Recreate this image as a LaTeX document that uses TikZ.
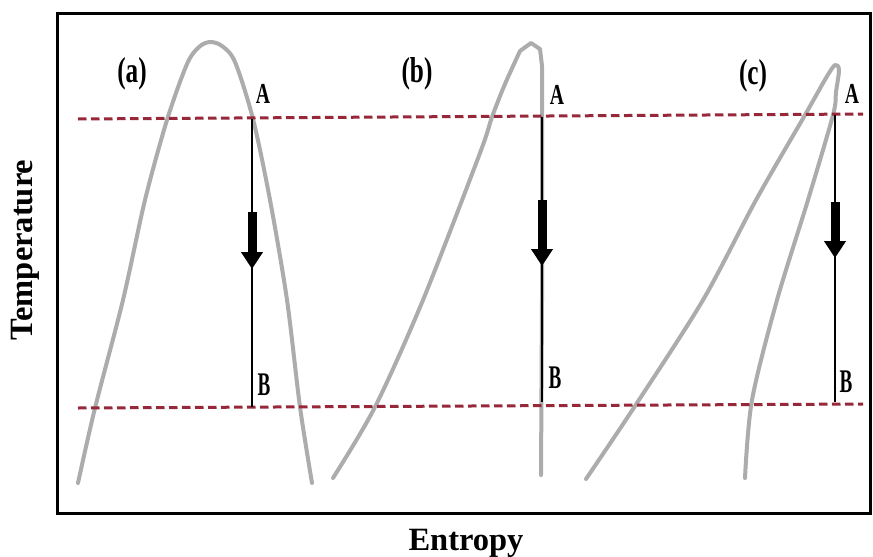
\documentclass[tikz,border=0pt]{standalone}
\usepackage{fontspec}
\setmainfont{Liberation Serif}
\usetikzlibrary{arrows.meta}
\definecolor{curvegray}{RGB}{172,172,172}
\definecolor{dashred}{RGB}{150,40,58}
\begin{document}
\begin{tikzpicture}[x=1pt,y=-1pt,
  curve/.style={draw=curvegray,line width=4pt,line cap=round,line join=round},
  refline/.style={draw=dashred,line width=3pt,dash pattern=on 8.5pt off 4.5pt},
  frameline/.style={draw=black,line width=3pt},
  ABline/.style={draw=black,line width=1.4pt},
  bigarrow/.style={draw=black,line width=9pt,-{Triangle[width=21pt,length=17pt]}},
  caselabel/.style={font=\fontsize{36}{36}\selectfont\bfseries,inner sep=0pt},
  ptlabel/.style={font=\fontsize{29}{29}\selectfont\bfseries,inner sep=0pt},
  bplabel/.style={font=\fontsize{33}{33}\selectfont\bfseries,inner sep=0pt},
  axislabel/.style={font=\fontsize{32.5}{32.5}\selectfont\bfseries,inner sep=0pt}]
\useasboundingbox (0,0) rectangle (873,557);
\fill[white] (0,0) rectangle (873,557);
% frame
\draw[frameline] (57,13) rectangle (870,513);
% curves
\draw[curve] plot[smooth,tension=0.5] coordinates {(78,483) (95,408) (123,300) (145,200) (167,120) (187,64) (199,47) (210,42) (222,46) (235,62) (253,119) (270,200) (287,300) (300,407) (312,483)};
\draw[curve] plot[smooth,tension=0.5] coordinates {(333,478) (375,407) (423,300) (480,153) (492,117) (505,84) (520,51)} -- (531,43) -- (540,49) -- (542,66) -- (542,300) -- (541,475);
\draw[curve] plot[smooth,tension=0.5] coordinates {(586,479) (635,406) (703,300) (756,200) (805,115) (826,78) (835,65) (839,70) (836,92) (833,115) (808,200) (777,300) (752,400) (745,478)};
% dashed reference lines
\draw[refline] (78,119) -- (863,114);
\draw[refline] (78,408) -- (863,404);
% process coordinates
\coordinate (Aa) at (252,118.5);
\coordinate (Ba) at (252,407);
\coordinate (Ab) at (542,116.5);
\coordinate (Bb) at (542,402);
\coordinate (Ac) at (835,114.5);
\coordinate (Bc) at (835,402);
\draw[ABline] (Aa) -- (Ba);
\draw[ABline] (Ab) -- (Bb);
\draw[ABline] (Ac) -- (Bc);
\coordinate (Sa) at (252,212); \coordinate (Ta) at (252,269);
\coordinate (Sb) at (542,200); \coordinate (Tb) at (542,266);
\coordinate (Sc) at (835,202); \coordinate (Tc) at (835,258);
\draw[bigarrow] (Sa) -- (Ta);
\draw[bigarrow] (Sb) -- (Tb);
\draw[bigarrow] (Sc) -- (Tc);
% labels
\node[caselabel] (la) at (132,74) {\scalebox{0.7}[1]{(a)}};
\node[caselabel] (lb) at (417,74) {\scalebox{0.7}[1]{(b)}};
\node[caselabel] (lc) at (753,76) {\scalebox{0.7}[1]{(c)}};
\node[ptlabel] (tA1) at (263,94) {\scalebox{0.68}[1]{A}};
\node[ptlabel] (tA2) at (557,95) {\scalebox{0.68}[1]{A}};
\node[ptlabel] (tA3) at (852,94) {\scalebox{0.68}[1]{A}};
\node[bplabel] (tB1) at (264,385) {\scalebox{0.58}[1]{B}};
\node[bplabel] (tB2) at (555,378) {\scalebox{0.58}[1]{B}};
\node[bplabel] (tB3) at (846,382) {\scalebox{0.58}[1]{B}};
\node[axislabel,anchor=base] (xlab) at (466,550) {Entropy};
\node[axislabel,rotate=90] (ylab) at (25,250) {Temperature};
\end{tikzpicture}
\end{document}
